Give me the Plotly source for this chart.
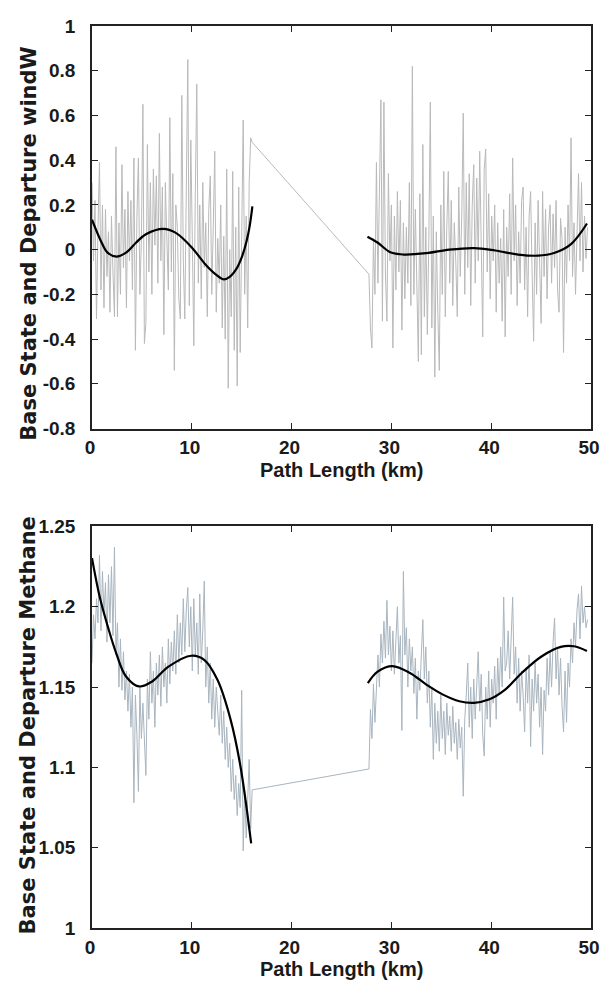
import plotly.graph_objects as go

# ---------------- data ----------------
path_km_seg1 = [
    0.0, 0.15, 0.3, 0.45, 0.6, 0.75, 0.9, 1.05, 1.2, 1.35,
    1.5, 1.65, 1.8, 1.95, 2.1, 2.25, 2.4, 2.55, 2.7, 2.85,
    3.0, 3.15, 3.3, 3.45, 3.6, 3.75, 3.9, 4.05, 4.2, 4.35,
    4.5, 4.65, 4.8, 4.95, 5.1, 5.25, 5.4, 5.55, 5.7, 5.85,
    6.0, 6.15, 6.3, 6.45, 6.6, 6.75, 6.9, 7.05, 7.2, 7.35,
    7.5, 7.65, 7.8, 7.95, 8.1, 8.25, 8.4, 8.55, 8.7, 8.85,
    9.0, 9.15, 9.3, 9.45, 9.6, 9.75, 9.9, 10.05, 10.2, 10.35,
    10.5, 10.65, 10.8, 10.95, 11.1, 11.25, 11.4, 11.55, 11.7, 11.85,
    12.0, 12.15, 12.3, 12.45, 12.6, 12.75, 12.9, 13.05, 13.2, 13.35,
    13.5, 13.65, 13.8, 13.95, 14.1, 14.25, 14.4, 14.55, 14.7, 14.85,
    15.0, 15.15, 15.3, 15.45, 15.6, 15.75, 15.9, 16.05,
]
path_km_seg2 = [
    27.75, 27.9, 28.05, 28.2, 28.35, 28.5, 28.65, 28.8, 28.95, 29.1,
    29.25, 29.4, 29.55, 29.7, 29.85, 30.0, 30.15, 30.3, 30.45, 30.6,
    30.75, 30.9, 31.05, 31.2, 31.35, 31.5, 31.65, 31.8, 31.95, 32.1,
    32.25, 32.4, 32.55, 32.7, 32.85, 33.0, 33.15, 33.3, 33.45, 33.6,
    33.75, 33.9, 34.05, 34.2, 34.35, 34.5, 34.65, 34.8, 34.95, 35.1,
    35.25, 35.4, 35.55, 35.7, 35.85, 36.0, 36.15, 36.3, 36.45, 36.6,
    36.75, 36.9, 37.05, 37.2, 37.35, 37.5, 37.65, 37.8, 37.95, 38.1,
    38.25, 38.4, 38.55, 38.7, 38.85, 39.0, 39.15, 39.3, 39.45, 39.6,
    39.75, 39.9, 40.05, 40.2, 40.35, 40.5, 40.65, 40.8, 40.95, 41.1,
    41.25, 41.4, 41.55, 41.7, 41.85, 42.0, 42.15, 42.3, 42.45, 42.6,
    42.75, 42.9, 43.05, 43.2, 43.35, 43.5, 43.65, 43.8, 43.95, 44.1,
    44.25, 44.4, 44.55, 44.7, 44.85, 45.0, 45.15, 45.3, 45.45, 45.6,
    45.75, 45.9, 46.05, 46.2, 46.35, 46.5, 46.65, 46.8, 46.95, 47.1,
    47.25, 47.4, 47.55, 47.7, 47.85, 48.0, 48.15, 48.3, 48.45, 48.6,
    48.75, 48.9, 49.05, 49.2, 49.35, 49.5, 49.65,
]

windw_seg1 = [
    0.30, -0.05, 0.22, -0.31, 0.10, 0.39, -0.18, 0.20, -0.26, 0.18,
    -0.12, 0.08, -0.28, 0.15, -0.10, -0.30, 0.46, -0.30, 0.12, -0.20,
    0.38, -0.08, 0.18, -0.26, 0.26, -0.05, 0.22, -0.18, 0.41, -0.45,
    0.15, 0.41, -0.20, 0.05, 0.65, -0.42, -0.33, 0.47, -0.10, 0.30,
    -0.20, 0.36, 0.02, 0.33, -0.15, 0.52, -0.05, 0.28, -0.38, 0.30,
    0.05, -0.18, 0.59, -0.10, 0.34, -0.54, 0.20, 0.10, -0.22, -0.31,
    0.69, -0.05, -0.31, 0.30, 0.85, -0.25, 0.49, 0.05, -0.43, 0.25,
    0.74, -0.15, 0.20, -0.22, 0.30, -0.08, 0.12, -0.30, 0.18, 0.33,
    -0.20, 0.10, 0.44, -0.28, 0.05, -0.15, 0.20, -0.35, 0.06, -0.40,
    0.36, -0.62, 0.00, -0.30, 0.35, -0.45, 0.10, -0.61, 0.28, -0.46,
    0.05, 0.58, -0.20, 0.15, -0.35, 0.30, 0.50, 0.48,
]
windw_seg2 = [
    -0.11, -0.35, -0.44, 0.05, -0.20, 0.39, -0.15, 0.18, 0.67, -0.32,
    0.66, -0.10, -0.32, 0.34, -0.05, 0.20, -0.44, 0.15, -0.18, 0.26,
    -0.10, 0.22, -0.36, 0.12, -0.22, 0.10, -0.15, 0.30, -0.25, 0.82,
    -0.20, 0.18, -0.10, -0.50, 0.25, -0.47, 0.47, -0.30, 0.10, -0.38,
    0.05, 0.66, -0.35, 0.15, -0.57, 0.08, -0.28, -0.54, 0.20, -0.20,
    0.35, -0.30, 0.10, 0.35, -0.15, 0.22, -0.25, 0.12, -0.05, -0.30,
    0.28, -0.12, 0.15, 0.61, -0.20, 0.30, -0.08, 0.34, -0.25, 0.20,
    0.38, -0.15, 0.32, -0.05, 0.44, 0.10, -0.39, 0.36, 0.45, -0.10,
    0.25, -0.22, 0.15, -0.05, 0.20, -0.28, 0.12, -0.15, 0.05, -0.32,
    0.18, -0.39, 0.10, -0.12, 0.25, -0.20, 0.41, -0.05, 0.20, -0.25,
    0.08, -0.15, 0.22, 0.28, -0.18, 0.10, -0.30, 0.15, 0.26, -0.10,
    -0.41, 0.12, -0.20, 0.22, -0.05, -0.33, 0.26, -0.12, 0.18, -0.22,
    0.10, 0.20, -0.15, 0.16, -0.08, 0.22, -0.18, -0.28, 0.14, 0.05,
    -0.46, 0.10, -0.15, 0.20, -0.05, 0.50, -0.12, 0.12, -0.20, 0.08,
    0.34, -0.05, 0.30, -0.10, 0.15, -0.04, 0.10,
]

methane_seg1 = [
    1.165, 1.195, 1.180, 1.205, 1.190, 1.232, 1.185, 1.222, 1.195, 1.215,
    1.178, 1.220, 1.190, 1.225, 1.182, 1.237, 1.170, 1.190, 1.150, 1.180,
    1.148, 1.172, 1.142, 1.160, 1.135, 1.158, 1.125, 1.150, 1.078, 1.145,
    1.120, 1.085, 1.150, 1.118, 1.140, 1.110, 1.095, 1.155, 1.130, 1.172,
    1.140, 1.160, 1.125, 1.165, 1.145, 1.170, 1.138, 1.175, 1.150, 1.165,
    1.140, 1.180, 1.152, 1.178, 1.160, 1.185, 1.158, 1.195, 1.165, 1.190,
    1.170, 1.205, 1.172, 1.198, 1.212, 1.175, 1.200, 1.160, 1.205, 1.170,
    1.190, 1.158, 1.208, 1.165, 1.185, 1.216, 1.150, 1.175, 1.140, 1.165,
    1.130, 1.155, 1.125, 1.150, 1.138, 1.120, 1.145, 1.115, 1.135, 1.105,
    1.125, 1.100, 1.115, 1.085, 1.105, 1.080, 1.095, 1.070, 1.090, 1.075,
    1.148, 1.048, 1.085, 1.056, 1.080, 1.105, 1.062, 1.086,
]
methane_seg2 = [
    1.099, 1.136, 1.118, 1.152, 1.128, 1.148, 1.170, 1.150, 1.183, 1.165,
    1.191, 1.168, 1.204, 1.170, 1.188, 1.160, 1.185, 1.158, 1.178, 1.200,
    1.165, 1.182, 1.123, 1.222, 1.170, 1.187, 1.150, 1.180, 1.160, 1.175,
    1.146, 1.168, 1.130, 1.160, 1.148, 1.170, 1.192, 1.155, 1.175, 1.140,
    1.160, 1.125, 1.150, 1.105, 1.140, 1.115, 1.135, 1.110, 1.145, 1.118,
    1.135, 1.108, 1.140, 1.120, 1.132, 1.110, 1.138, 1.115, 1.128, 1.105,
    1.130, 1.112, 1.125, 1.082, 1.130, 1.145, 1.165, 1.125, 1.150, 1.118,
    1.155, 1.130, 1.148, 1.172, 1.135, 1.158, 1.120, 1.107, 1.150, 1.130,
    1.160, 1.125, 1.155, 1.140, 1.163, 1.130, 1.168, 1.145, 1.175, 1.150,
    1.206, 1.160, 1.165, 1.185, 1.155, 1.180, 1.206, 1.158, 1.175, 1.140,
    1.168, 1.135, 1.160, 1.145, 1.122, 1.162, 1.140, 1.170, 1.113, 1.155,
    1.135, 1.165, 1.140, 1.158, 1.125, 1.150, 1.108, 1.148, 1.135, 1.168,
    1.145, 1.172, 1.150, 1.178, 1.193, 1.155, 1.175, 1.145, 1.168, 1.138,
    1.122, 1.160, 1.128, 1.165, 1.150, 1.180, 1.165, 1.190, 1.175, 1.198,
    1.208, 1.180, 1.213, 1.190, 1.200, 1.187, 1.192,
]

# base state (smooth fit) samples
windw_base1_x = [0.0, 0.88, 1.53, 2.46, 3.45, 4.43, 5.4, 7.15, 8.36, 10.0, 11.3, 12.3, 13.2, 13.8, 14.5, 15.0, 15.5, 15.8, 16.07]
windw_base1_y = [0.134, 0.04, -0.012, -0.031, -0.012, 0.032, 0.069, 0.093, 0.076, 0.01, -0.063, -0.107, -0.133, -0.122, -0.084, -0.035, 0.04, 0.105, 0.193]
windw_base2_x = [27.6, 28.6, 29.9, 31.2, 33.5, 35.8, 38.3, 40.4, 42.7, 44.7, 46.3, 48.0, 49.6]
windw_base2_y = [0.058, 0.032, -0.012, -0.022, -0.016, 0.0, 0.007, -0.004, -0.022, -0.027, -0.015, 0.025, 0.117]

methane_base1_x = [0.0, 0.79, 1.6, 2.43, 3.41, 4.72, 6.03, 7.66, 9.95, 11.27, 12.57, 13.88, 14.86, 15.95]
methane_base1_y = [1.2303, 1.2057, 1.1873, 1.171, 1.1566, 1.1504, 1.1535, 1.1627, 1.1695, 1.1668, 1.1545, 1.1299, 1.1012, 1.0527]
methane_base2_x = [27.64, 28.62, 30.1, 31.9, 33.54, 35.17, 36.81, 38.28, 39.76, 41.4, 43.03, 45.0, 46.97, 48.28, 49.59]
methane_base2_y = [1.1525, 1.1596, 1.1631, 1.1586, 1.1514, 1.1453, 1.1412, 1.1402, 1.1422, 1.1484, 1.1586, 1.1689, 1.175, 1.1754, 1.1725]

x_tickvals = [0, 10, 20, 30, 40, 50]
x_ticktext = ["0", "10", "20", "30", "40", "50"]
windw_tickvals = [-0.8, -0.6, -0.4, -0.2, 0, 0.2, 0.4, 0.6, 0.8, 1]
windw_ticktext = ["-0.8", "-0.6", "-0.4", "-0.2", "0", "0.2", "0.4", "0.6", "0.8", "1"]
methane_tickvals = [1.0, 1.05, 1.1, 1.15, 1.2, 1.25]
methane_ticktext = ["1", "1.05", "1.1", "1.15", "1.2", "1.25"]

x_title = "Path Length (km)"
windw_title = "Base State and Departure windW"
methane_title = "Base State and Departure Methane"

# ---------------- figure ----------------
# the page body adds an 8px margin, so the figure is offset to compensate
OFF = 8
PAGE_W, PAGE_H = 608, 984
W, H = PAGE_W - OFF, PAGE_H - OFF
# plot-area edges in page pixels
LEFT, RIGHT = 92, 600
TOP1, BOT1 = 16, 423
TOP2, BOT2 = 522, 928
ML = LEFT - OFF
MR = W - (RIGHT - OFF)
MT = TOP1 - OFF
MB = H - (BOT2 - OFF)
plot_h = H - MT - MB
plot_w = W - ML - MR


def py(page_pix):
    return (H - MB - (page_pix - OFF)) / plot_h


def px(page_pix):
    return ((page_pix - OFF) - ML) / plot_w


fig = go.Figure()

noise_top = "#b9b9b9"
noise_bot = "#a9b5bf"
base_line = dict(color="black", width=2.2, shape="spline", smoothing=1.0)

fig.add_trace(go.Scatter(x=path_km_seg1 + path_km_seg2, y=windw_seg1 + windw_seg2,
                         mode="lines", line=dict(color=noise_top, width=1),
                         xaxis="x", yaxis="y", showlegend=False))
fig.add_trace(go.Scatter(x=windw_base1_x, y=windw_base1_y, mode="lines", line=base_line,
                         xaxis="x", yaxis="y", showlegend=False))
fig.add_trace(go.Scatter(x=windw_base2_x, y=windw_base2_y, mode="lines", line=base_line,
                         xaxis="x", yaxis="y", showlegend=False))

fig.add_trace(go.Scatter(x=path_km_seg1 + path_km_seg2, y=methane_seg1 + methane_seg2,
                         mode="lines", line=dict(color=noise_bot, width=1),
                         xaxis="x2", yaxis="y2", showlegend=False))
fig.add_trace(go.Scatter(x=methane_base1_x, y=methane_base1_y, mode="lines", line=base_line,
                         xaxis="x2", yaxis="y2", showlegend=False))
fig.add_trace(go.Scatter(x=methane_base2_x, y=methane_base2_y, mode="lines", line=base_line,
                         xaxis="x2", yaxis="y2", showlegend=False))

tickfont = dict(family="Liberation Sans, Arial, sans-serif", size=19, color="#1a1a1a", weight="bold")
axis_common = dict(showline=True, linecolor="#222222", linewidth=1.6, mirror="allticks",
                   ticks="inside", ticklen=6, tickwidth=1.4, tickcolor="#222222",
                   showgrid=False, zeroline=False, tickfont=tickfont, ticklabeloverflow="allow")

top_dom = [py(BOT1), py(TOP1)]
bot_dom = [py(BOT2), py(TOP2)]

fig.update_layout(
    width=W, height=H,
    margin=dict(l=ML, r=MR, t=MT, b=MB),
    paper_bgcolor="white", plot_bgcolor="white",
    xaxis=dict(domain=[0, 1], anchor="y", range=[0, 50], tickvals=x_tickvals, ticktext=x_ticktext,
               ticklabelstandoff=1, ticklabelshift=-2, **axis_common),
    yaxis=dict(domain=top_dom, anchor="x", range=[-0.8, 1], tickvals=windw_tickvals, ticktext=windw_ticktext,
               ticklabelstandoff=11, **axis_common),
    xaxis2=dict(domain=[0, 1], anchor="y2", range=[0, 50], tickvals=x_tickvals, ticktext=x_ticktext,
                ticklabelstandoff=1, ticklabelshift=-2, **axis_common),
    yaxis2=dict(domain=bot_dom, anchor="x2", range=[1.0, 1.25], tickvals=methane_tickvals, ticktext=methane_ticktext,
                ticklabelstandoff=11, **axis_common),
)

title_font = dict(family="Liberation Sans, Arial, sans-serif", size=20, color="#1a1a1a", weight="bold")
ytitle_font = dict(family="DejaVu Sans, sans-serif", size=21, color="#1a1a1a", weight="bold")

fig.add_annotation(text=x_title, xref="paper", yref="paper", x=px(346), y=py(465),
                   xanchor="center", yanchor="middle", showarrow=False, font=title_font)
fig.add_annotation(text=x_title, xref="paper", yref="paper", x=px(346), y=py(969),
                   xanchor="center", yanchor="middle", showarrow=False, font=title_font)
fig.add_annotation(text=windw_title, xref="paper", yref="paper", x=px(27), y=py(236),
                   xanchor="center", yanchor="middle", textangle=-90, showarrow=False, font=ytitle_font)
fig.add_annotation(text=methane_title, xref="paper", yref="paper", x=px(27), y=py(723),
                   xanchor="center", yanchor="middle", textangle=-90, showarrow=False, font=ytitle_font)

fig.write_html("out.html")
